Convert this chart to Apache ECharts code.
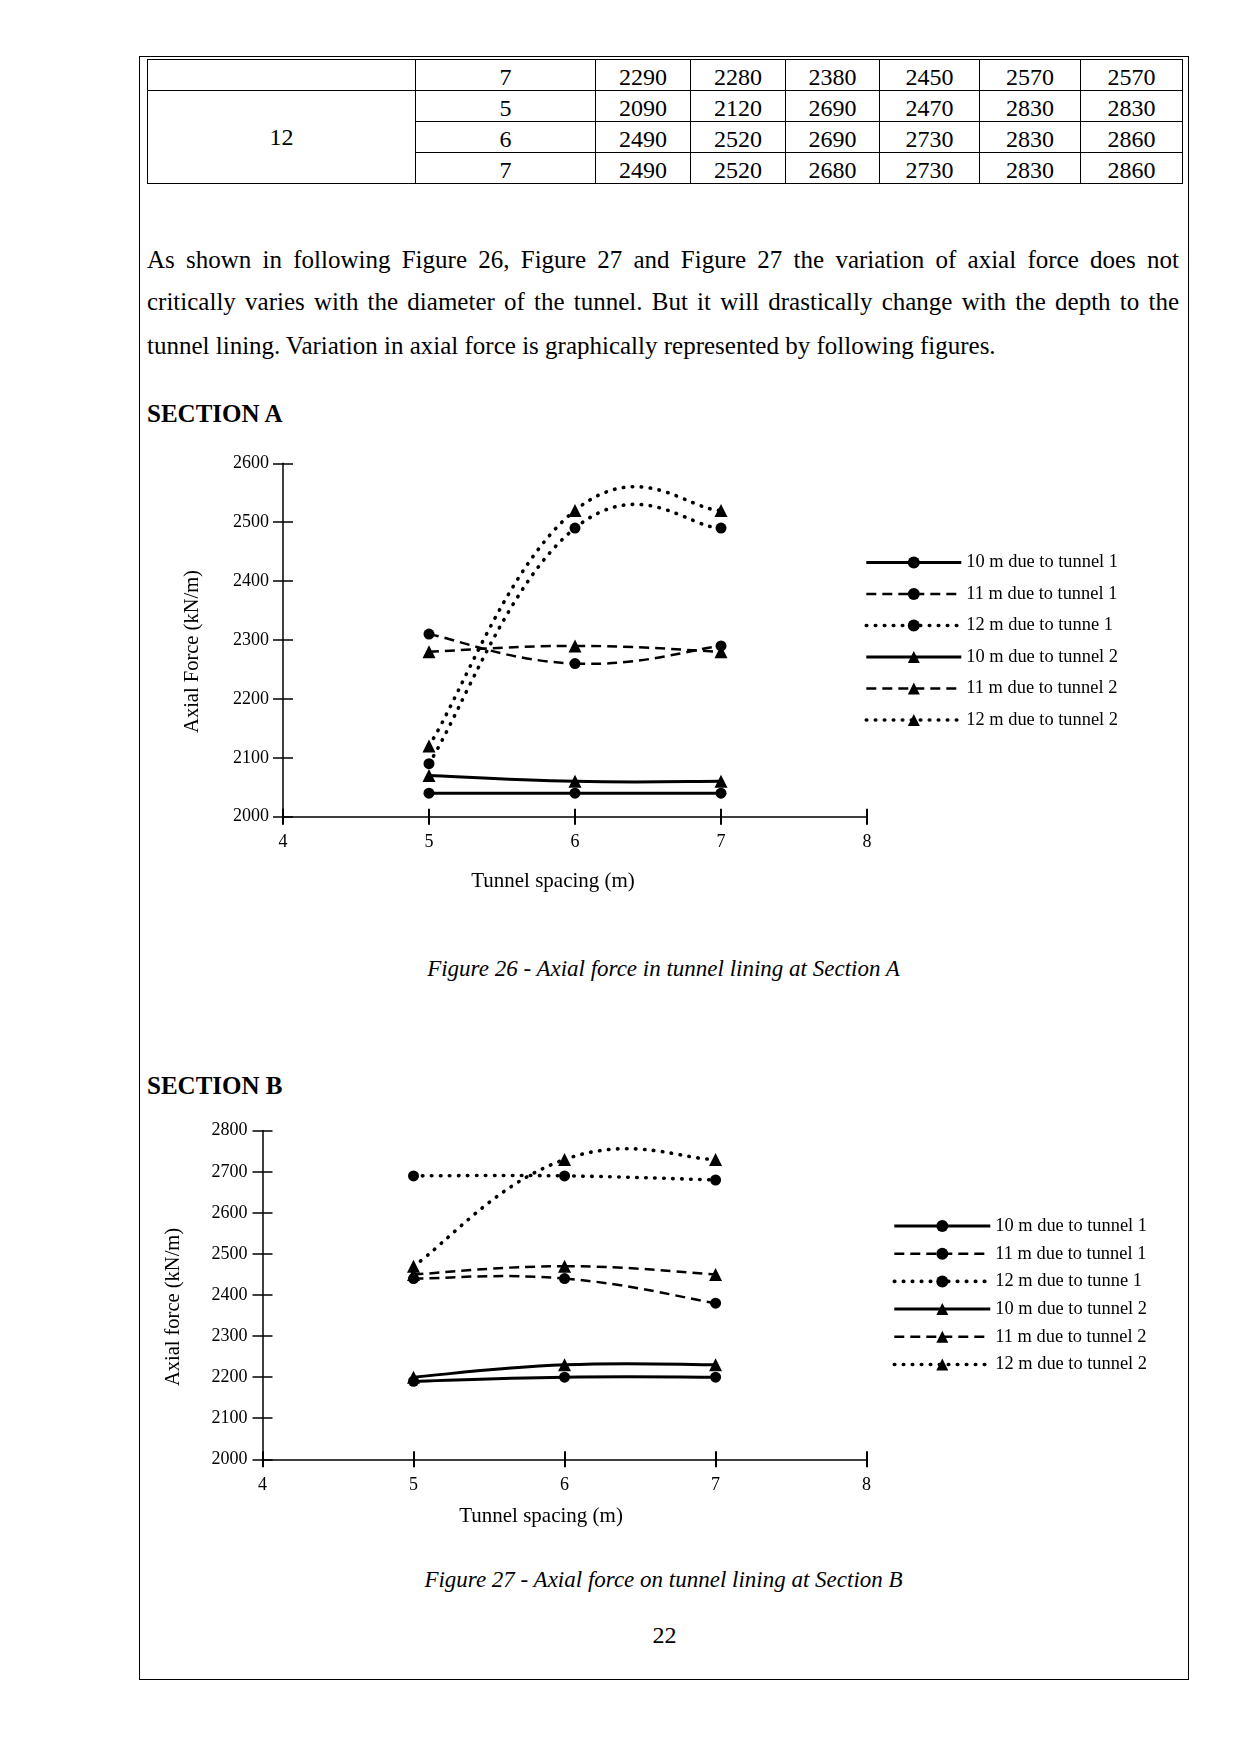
<!DOCTYPE html>
<html>
<head>
<meta charset="utf-8">
<script src="https://cdn.jsdelivr.net/npm/echarts@6/dist/echarts.min.js"></script>
<style>
  html, body { margin: 0; padding: 0; background: #fff; }
  body { width: 1241px; height: 1754px; position: relative; font-family: 'Liberation Serif', 'Times New Roman', serif; color: #000; }
  .abs { position: absolute; white-space: nowrap; }
  .page { position: absolute; left: 139px; top: 56px; width: 1050px; height: 1624px; border: 1px solid #000; box-sizing: border-box; }
  table.data { position: absolute; left: 147px; top: 59px; border-collapse: collapse; table-layout: fixed; font-size: 24px; font-family: 'Liberation Serif', serif; }
  table.data td { border: 1px solid #000; height: 26px; padding: 4px 0 0 0; text-align: center; vertical-align: middle; line-height: 24px; }
  .para { position: absolute; left: 147px; width: 1032px; font-size: 25px; line-height: 25px; text-align: justify; text-align-last: justify; white-space: nowrap; }
  .para.last { text-align-last: left; }
  .head { position: absolute; left: 147px; font-size: 25px; line-height: 25px; font-weight: bold; }
  .cap { position: absolute; left: 0; width: 1327px; text-align: center; font-size: 23px; line-height: 23px; font-style: italic; }
  .chart { position: absolute; left: 0; width: 1241px; }
</style>
</head>
<body>
<div class="page"></div>
<table class="data" id="tbl"></table>

<div class="para" style="top:247px">As shown in following Figure 26, Figure 27 and Figure 27 the variation of axial force does not</div>
<div class="para" style="top:289px">critically varies with the diameter of the tunnel. But it will drastically change with the depth to the</div>
<div class="para last" style="top:333px">tunnel lining. Variation in axial force is graphically represented by following figures.</div>

<div class="head" style="top:401px">SECTION A</div>
<div id="chartA" class="chart" style="top:440px;height:470px"></div>
<div class="cap" style="top:957px">Figure 26 - Axial force in tunnel lining at Section A</div>

<div class="head" style="top:1073px">SECTION B</div>
<div id="chartB" class="chart" style="top:1100px;height:440px"></div>
<div class="cap" style="top:1568px">Figure 27 - Axial force on tunnel lining at Section B</div>
<div class="abs" style="left:0;width:1329px;text-align:center;top:1623px;font-size:24px;line-height:24px">22</div>

<script>
// ---------- table data ----------
const colWidths = [268, 180, 95, 95, 94, 100, 101, 102];
const tableRow1 = ['', '7', 2290, 2280, 2380, 2450, 2570, 2570];
const tableRow2 = ['12', '5', 2090, 2120, 2690, 2470, 2830, 2830];
const tableRow3 = ['', '6', 2490, 2520, 2690, 2730, 2830, 2860];
const tableRow4 = ['', '7', 2490, 2520, 2680, 2730, 2830, 2860];

// ---------- chart data ----------
const spacing = [5, 6, 7];
const seriesNames = ['10 m due to tunnel 1', '11 m due to tunnel 1', '12 m due to tunne 1',
                     '10 m due to tunnel 2', '11 m due to tunnel 2', '12 m due to tunnel 2'];
const xTicks = [4, 5, 6, 7, 8];
const yTicksA = [2000, 2100, 2200, 2300, 2400, 2500, 2600];
const yTicksB = [2000, 2100, 2200, 2300, 2400, 2500, 2600, 2700, 2800];

const secA_10_t1 = [2040, 2040, 2040];
const secA_11_t1 = [2310, 2260, 2290];
const secA_12_t1 = [2090, 2490, 2490];
const secA_10_t2 = [2070, 2060, 2060];
const secA_11_t2 = [2280, 2290, 2280];
const secA_12_t2 = [2120, 2520, 2520];

const secB_10_t1 = [2190, 2200, 2200];
const secB_11_t1 = [2440, 2440, 2380];
const secB_12_t1 = [2690, 2690, 2680];
const secB_10_t2 = [2200, 2230, 2230];
const secB_11_t2 = [2450, 2470, 2450];
const secB_12_t2 = [2470, 2730, 2730];

// ---------- build table ----------
(function () {
  const t = document.getElementById('tbl');
  const cg = document.createElement('colgroup');
  colWidths.forEach(w => { const c = document.createElement('col'); c.style.width = w + 'px'; cg.appendChild(c); });
  t.appendChild(cg);
  [tableRow1, tableRow2, tableRow3, tableRow4].forEach((row, ri) => {
    const tr = document.createElement('tr');
    row.forEach((v, ci) => {
      if (ci === 0 && ri >= 2) return;
      const td = document.createElement('td');
      td.textContent = v;
      if (ci === 0 && ri === 1) { td.rowSpan = 3; td.style.paddingTop = '0'; }
      tr.appendChild(td);
    });
    t.appendChild(tr);
  });
})();

// ---------- charts ----------
const FONT = 'Liberation Serif';
const K = 0.227; // spline tension for the smoothed (Excel-like) curves
const lineStyles = [
  { type: 'solid', width: 3, cap: 'butt' },
  { type: [10, 6], width: 2.5, cap: 'butt' },
  { type: [0.5, 8.5], width: 3.6, cap: 'round' },
  { type: 'solid', width: 3, cap: 'butt' },
  { type: [10, 6], width: 2.5, cap: 'butt' },
  { type: [0.5, 8.5], width: 3.6, cap: 'round' }
];
const symbols = ['circle', 'circle', 'circle', 'triangle', 'triangle', 'triangle'];
const symbolSizes = [11, 11, 11, 13, 13, 13];

function curveSeries(vals, ls) {
  const n = spacing.length;
  return {
    type: 'custom',
    xAxisIndex: 0, yAxisIndex: 0,
    silent: true,
    z: 1,
    animation: false,
    data: spacing.map((x, k) => [x, vals[k]]),
    renderItem: function (params, api) {
      const i = params.dataIndex;
      if (i === 0) return null;
      const P = j => { const c = Math.max(0, Math.min(n - 1, j)); return api.coord([spacing[c], vals[c]]); };
      const p0 = P(i - 2), p1 = P(i - 1), p2 = P(i), p3 = P(i + 1);
      return {
        type: 'bezierCurve',
        shape: {
          x1: p1[0], y1: p1[1], x2: p2[0], y2: p2[1],
          cpx1: p1[0] + (p2[0] - p0[0]) * K, cpy1: p1[1] + (p2[1] - p0[1]) * K,
          cpx2: p2[0] - (p3[0] - p1[0]) * K, cpy2: p2[1] - (p3[1] - p1[1]) * K
        },
        style: {
          fill: null, stroke: '#000', lineWidth: ls.width,
          lineDash: Array.isArray(ls.type) ? ls.type : null,
          lineCap: ls.cap
        }
      };
    }
  };
}

function makeSeries(values) {
  const curves = values.map((vals, i) => curveSeries(vals, lineStyles[i]));
  const marks = values.map((vals, i) => ({
    name: seriesNames[i],
    type: 'line',
    xAxisIndex: 0,
    yAxisIndex: 0,
    z: 3,
    data: spacing.map((x, k) => [x, vals[k]]),
    symbol: symbols[i],
    symbolSize: symbolSizes[i],
    showAllSymbol: true,
    itemStyle: { color: '#000' },
    lineStyle: { color: '#000', opacity: 0 },
    emphasis: { disabled: true },
    animation: false
  }));
  return curves.concat(marks);
}

function makeOption(cfg) {
  const axisLineStyle = { show: true, onZero: false, lineStyle: { color: '#000', width: 1.5 } };
  const yMin = cfg.yTicks[0], yMax = cfg.yTicks[cfg.yTicks.length - 1];
  const xMin = xTicks[0], xMax = xTicks[xTicks.length - 1];
  return {
    animation: false,
    grid: { left: cfg.grid.left, top: cfg.grid.top, width: cfg.grid.width, height: cfg.grid.height, containLabel: false, outerBoundsMode: 'none' },
    legend: {
      orient: 'vertical',
      left: cfg.legend.left,
      top: cfg.legend.top,
      itemWidth: cfg.legend.itemWidth,
      itemHeight: 15,
      itemGap: cfg.legend.gap,
      selectedMode: false,
      textStyle: { fontFamily: FONT, fontSize: 18.4, color: '#000', lineHeight: 15 },
      data: seriesNames.map((nm, i) => ({
        name: nm,
        lineStyle: { color: '#000', opacity: 1, width: lineStyles[i].width, type: lineStyles[i].type, cap: lineStyles[i].cap }
      }))
    },
    xAxis: [
      {
        type: 'value', position: 'bottom', min: xMin, max: xMax, interval: 1,
        axisLine: axisLineStyle,
        axisTick: { show: true, inside: false, length: 8, lineStyle: { color: '#000', width: 2 } },
        axisLabel: { fontFamily: FONT, fontSize: 18, color: '#000', margin: cfg.xLabelMargin, formatter: v => String(v) },
        splitLine: { show: false },
        name: 'Tunnel spacing (m)', nameLocation: 'middle', nameGap: cfg.xNameGap,
        nameTextStyle: { fontFamily: FONT, fontSize: 21, color: '#000', padding: [0, cfg.xNamePad, 0, 0] }
      },
      {
        type: 'value', position: 'bottom', min: xMin, max: xMax, interval: 1,
        axisLine: { show: false, onZero: false },
        axisTick: { show: true, inside: true, length: 8, lineStyle: { color: '#000', width: 2 } },
        axisLabel: { show: false },
        splitLine: { show: false }
      }
    ],
    yAxis: [
      {
        type: 'value', position: 'left', min: yMin, max: yMax, interval: 100,
        axisLine: axisLineStyle,
        axisTick: { show: true, inside: false, length: 10, lineStyle: { color: '#000', width: 1.5 } },
        axisLabel: { fontFamily: FONT, fontSize: 18, color: '#000', margin: cfg.yLabelMargin, formatter: v => String(v) },
        splitLine: { show: false },
        name: cfg.yName, nameLocation: 'middle', nameGap: cfg.yNameGap, nameRotate: 90,
        nameTextStyle: { fontFamily: FONT, fontSize: 20.5, color: '#000', padding: [0, cfg.yNamePad, 0, 0] }
      },
      {
        type: 'value', position: 'left', min: yMin, max: yMax, interval: 100,
        axisLine: { show: false, onZero: false },
        axisTick: { show: true, inside: true, length: 10, lineStyle: { color: '#000', width: 1.5 } },
        axisLabel: { show: false },
        splitLine: { show: false }
      }
    ],
    series: makeSeries(cfg.values)
  };
}

const chartA = echarts.init(document.getElementById('chartA'), null, { renderer: 'canvas' });
chartA.setOption(makeOption({
  grid: { left: 283, top: 23.3, width: 584, height: 353.4 },
  legend: { left: 859.5, top: 108.5, itemWidth: 95, gap: 13.5 },
  yTicks: yTicksA,
  yName: 'Axial Force (kN/m)',
  xLabelMargin: 17, xNameGap: 54, xNamePad: 44,
  yLabelMargin: 14, yNameGap: 79.5, yNamePad: 23,
  values: [secA_10_t1, secA_11_t1, secA_12_t1, secA_10_t2, secA_11_t2, secA_12_t2]
}));

const chartB = echarts.init(document.getElementById('chartB'), null, { renderer: 'canvas' });
chartB.setOption(makeOption({
  grid: { left: 262.5, top: 30.7, width: 604.1, height: 328.6 },
  legend: { left: 887.5, top: 112, itemWidth: 96, gap: 9.7 },
  yTicks: yTicksB,
  yName: 'Axial force (kN/m)',
  xLabelMargin: 17, xNameGap: 47, xNamePad: 47,
  yLabelMargin: 15, yNameGap: 78, yNamePad: 24,
  values: [secB_10_t1, secB_11_t1, secB_12_t1, secB_10_t2, secB_11_t2, secB_12_t2]
}));
</script>
</body>
</html>
